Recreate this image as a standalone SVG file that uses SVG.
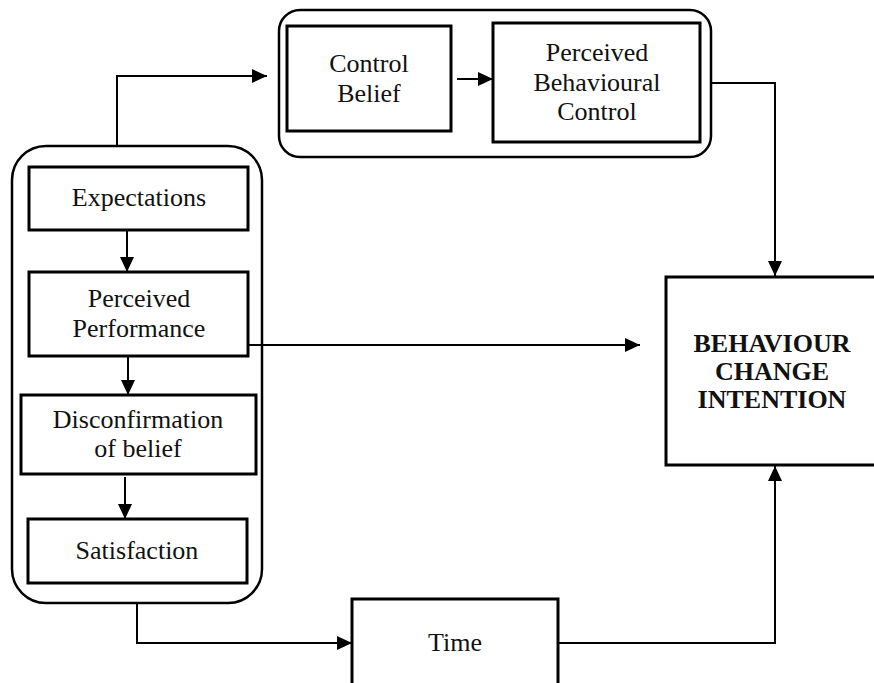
<svg xmlns="http://www.w3.org/2000/svg" width="874" height="683" viewBox="0 0 874 683">
<style>
  .box { fill: #ffffff; stroke: #000000; stroke-width: 3; }
  .group { fill: #ffffff; stroke: #000000; stroke-width: 2.5; }
  .conn { fill: none; stroke: #000000; stroke-width: 2; }
  .lbl { font-family: "Liberation Serif", "Times New Roman", serif; font-size: 26px; fill: #111111; text-anchor: middle; }
  .bold { font-weight: bold; font-size: 26px; }
</style>
<defs>
  <marker id="arr" viewBox="0 0 15 14" refX="15" refY="7" markerWidth="15" markerHeight="14" markerUnits="userSpaceOnUse" orient="auto">
    <path d="M0,0 L15,7 L0,14 Z" fill="#000000"/>
  </marker>
</defs>
<rect width="874" height="683" fill="#ffffff"/>

<g id="group-control">
  <rect class="group" x="279" y="10" width="432" height="147" rx="21" ry="21"/>
</g>
<g id="group-satisfaction">
  <rect class="group" x="12" y="146" width="250" height="457" rx="34" ry="34"/>
</g>

<g id="connectors">
  <path class="conn" d="M117,146 V76 H267" marker-end="url(#arr)"/>
  <path class="conn" d="M457,79 H493" marker-end="url(#arr)"/>
  <path class="conn" d="M712,83 H775 V276" marker-end="url(#arr)"/>
  <path class="conn" d="M127,230 V272" marker-end="url(#arr)"/>
  <path class="conn" d="M248,345 H640" marker-end="url(#arr)"/>
  <path class="conn" d="M128,356 V395" marker-end="url(#arr)"/>
  <path class="conn" d="M125,477 V519" marker-end="url(#arr)"/>
  <path class="conn" d="M137,603 V643 H352" marker-end="url(#arr)"/>
  <path class="conn" d="M558,643 H775 V466" marker-end="url(#arr)"/>
</g>

<g id="control-belief">
  <rect class="box" x="287" y="26" width="164" height="105"/>
  <text class="lbl" x="369" y="72">Control</text>
  <text class="lbl" x="369" y="102">Belief</text>
</g>
<g id="perceived-behavioural-control">
  <rect class="box" x="493" y="23" width="207" height="119"/>
  <text class="lbl" x="597" y="61">Perceived</text>
  <text class="lbl" x="597" y="91">Behavioural</text>
  <text class="lbl" x="597" y="120">Control</text>
</g>
<g id="expectations">
  <rect class="box" x="29" y="167" width="219" height="63"/>
  <text class="lbl" x="139" y="206">Expectations</text>
</g>
<g id="perceived-performance">
  <rect class="box" x="29" y="272" width="219" height="84"/>
  <text class="lbl" x="139" y="307">Perceived</text>
  <text class="lbl" x="139" y="337">Performance</text>
</g>
<g id="disconfirmation">
  <rect class="box" x="21" y="395" width="235" height="79"/>
  <text class="lbl" x="138" y="428">Disconfirmation</text>
  <text class="lbl" x="138" y="457">of belief</text>
</g>
<g id="satisfaction">
  <rect class="box" x="28" y="519" width="219" height="64"/>
  <text class="lbl" x="137" y="559">Satisfaction</text>
</g>
<g id="time">
  <rect class="box" x="352" y="599" width="206" height="100"/>
  <text class="lbl" x="455" y="651">Time</text>
</g>
<g id="behaviour-change-intention">
  <rect class="box" x="666" y="277" width="220" height="188"/>
  <text class="lbl bold" x="772" y="352">BEHAVIOUR</text>
  <text class="lbl bold" x="772" y="380">CHANGE</text>
  <text class="lbl bold" x="772" y="408">INTENTION</text>
</g>
</svg>
